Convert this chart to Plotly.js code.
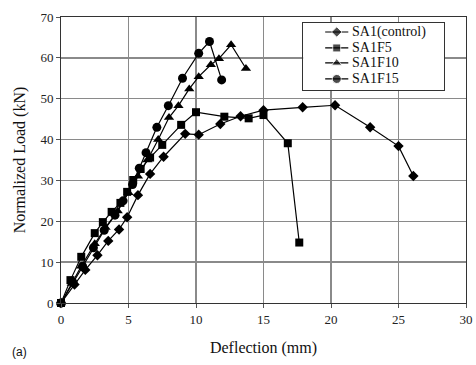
<!DOCTYPE html>
<html>
<head>
<meta charset="utf-8">
<script src="https://cdn.plot.ly/plotly-3.0.1.min.js"></script>
<style>
  html, body { margin: 0; padding: 0; background: #fff; }
  #chart { width: 476px; height: 365px; }
</style>
</head>
<body>
<div id="chart"></div>
<script>
// Load–deflection curves of the four beams
const sa1X    = [0, 1.0, 1.8, 2.7, 3.5, 4.3, 4.9, 5.7, 6.6, 7.6, 9.2, 10.2, 11.8, 13.3, 15.0, 17.9, 20.3, 22.9, 25.0, 26.1];
const sa1Y    = [0, 4.5, 8.1, 11.7, 15.2, 18.0, 21.0, 26.4, 31.6, 35.8, 41.4, 41.2, 43.8, 45.7, 47.2, 47.9, 48.4, 43.0, 38.4, 31.1];

const f5X     = [0, 0.7, 1.5, 2.5, 3.1, 3.75, 4.4, 4.9, 5.35, 5.9, 6.6, 7.5, 8.9, 10.0, 12.1, 13.9, 15.0, 16.8, 17.65];
const f5Y     = [0, 5.6, 11.3, 17.1, 19.8, 22.3, 24.5, 27.2, 30.1, 32.8, 35.6, 38.7, 43.6, 46.7, 45.6, 45.2, 46.0, 39.1, 14.8];

const f10X    = [0, 0.8, 1.5, 2.5, 3.3, 4.2, 5.0, 5.7, 6.4, 7.2, 8.0, 8.7, 9.5, 10.2, 11.1, 11.7, 12.6, 13.7];
const f10Y    = [0, 4.8, 9.0, 14.5, 18.5, 22.5, 27.0, 31.0, 35.0, 40.0, 45.4, 48.3, 52.4, 55.4, 58.3, 59.8, 63.2, 57.4];

const f15X    = [0, 0.9, 1.6, 2.4, 3.2, 4.0, 4.6, 5.3, 5.8, 6.3, 7.1, 7.95, 9.0, 10.2, 11.0, 11.9];
const f15Y    = [0, 5.0, 9.0, 13.5, 17.8, 21.5, 25.0, 29.0, 33.0, 36.8, 43.0, 48.3, 55.0, 61.1, 64.0, 54.6];

const seriesNames = ['SA1(control)', 'SA1F5', 'SA1F10', 'SA1F15'];
const xTicks = [0, 5, 10, 15, 20, 25, 30];
const yTicks = [0, 10, 20, 30, 40, 50, 60, 70];

const serif = 'Liberation Serif, Times New Roman, serif';
const symbols = ['diamond', 'square', 'triangle-up', 'circle'];
const sizes = [8, 8, 9, 9];
const seriesX = [sa1X, f5X, f10X, f15X];
const seriesY = [sa1Y, f5Y, f10Y, f15Y];

const data = seriesX.map((x, i) => ({
  x: x, y: seriesY[i], name: seriesNames[i], type: 'scatter', mode: 'lines+markers',
  line: { color: '#000', width: 1.2 },
  marker: { symbol: symbols[i], size: sizes[i], color: '#000' },
  cliponaxis: false, showlegend: false
}));

// Boxed key in an inset subplot (x2/y2 run 0..1 across the box)
const keyRowY = [0.866, 0.627, 0.403, 0.164];
seriesNames.forEach((name, i) => {
  data.push({
    x: [0.156, 0.238, 0.32], y: [keyRowY[i], keyRowY[i], keyRowY[i]],
    xaxis: 'x2', yaxis: 'y2', type: 'scatter', mode: 'lines+markers',
    line: { color: '#000', width: 1.2 },
    marker: { symbol: symbols[i], size: [0, sizes[i], 0], color: '#000' },
    showlegend: false, hoverinfo: 'skip'
  });
});

const axisCommon = {
  showline: true, linecolor: '#333', linewidth: 1, mirror: true,
  showgrid: true, gridcolor: '#8a8a8a', gridwidth: 1.3,
  zeroline: false,
  ticks: 'outside', ticklen: 4, tickcolor: '#555',
  tickfont: { family: serif, size: 13, color: '#222' }
};

const keyAxis = {
  range: [0, 1], showgrid: false, zeroline: false, showticklabels: false,
  ticks: '', showline: true, mirror: true, linecolor: '#333', linewidth: 1,
  fixedrange: true
};

const layout = {
  width: 476, height: 365,
  margin: { l: 61, r: 10, t: 17, b: 62 },
  paper_bgcolor: '#fff', plot_bgcolor: '#fff',
  showlegend: false,
  xaxis: Object.assign({}, axisCommon, {
    range: [0, 30], tickvals: xTicks, ticktext: xTicks.map(String),
    title: { text: 'Deflection (mm)', font: { family: serif, size: 16, color: '#111' }, standoff: 16 }
  }),
  yaxis: Object.assign({}, axisCommon, {
    range: [0, 70], tickvals: yTicks, ticktext: yTicks.map(String),
    title: { text: 'Normalized Load (kN)', font: { family: serif, size: 16, color: '#111' }, standoff: 10 }
  }),
  xaxis2: Object.assign({}, keyAxis, { domain: [0.598, 0.946], anchor: 'y2' }),
  yaxis2: Object.assign({}, keyAxis, { domain: [0.745, 0.979], anchor: 'x2' }),
  annotations: seriesNames.map((name, i) => ({
    text: name, xref: 'x2', yref: 'y2', x: 0.333, y: keyRowY[i],
    xanchor: 'left', yanchor: 'middle', showarrow: false,
    font: { family: serif, size: 14, color: '#111' }
  })).concat([{
    text: '(a)', xref: 'paper', yref: 'paper', x: -0.125, y: -0.17,
    xanchor: 'left', yanchor: 'middle', showarrow: false,
    font: { family: 'Liberation Sans, Arial, sans-serif', size: 12, color: '#111' }
  }])
};

Plotly.newPlot('chart', data, layout, { displayModeBar: false, staticPlot: true });
</script>
</body>
</html>
